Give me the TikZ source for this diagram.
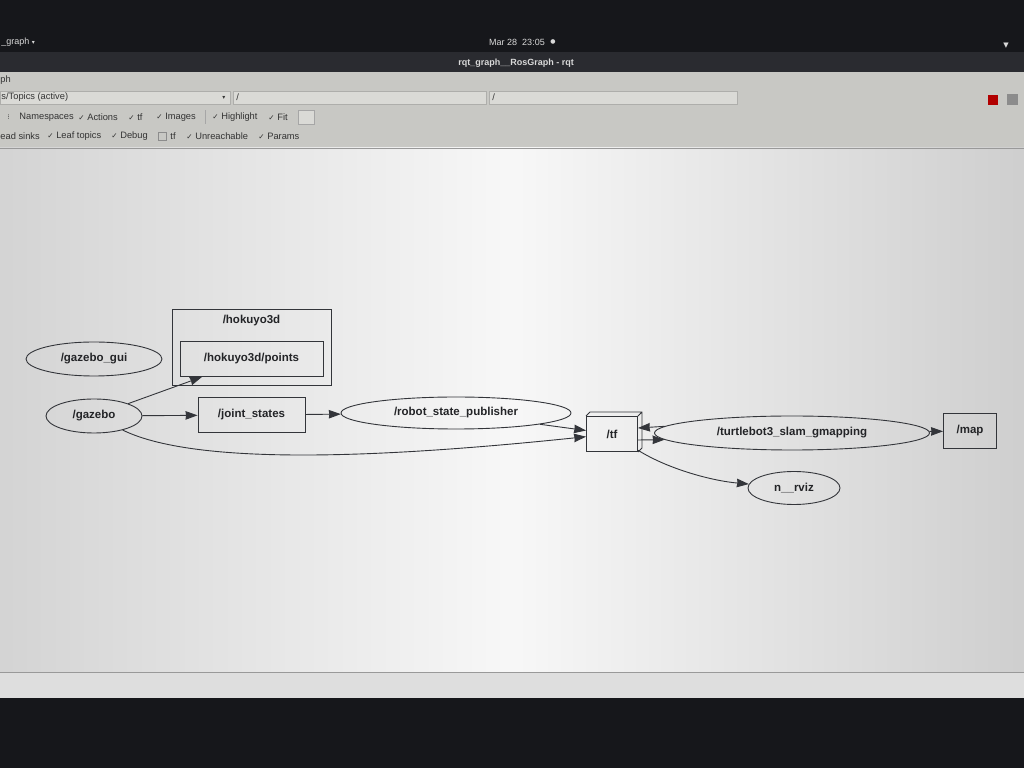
\documentclass[tikz,border=0pt]{standalone}
\usepackage{fontspec}
\setmainfont{Liberation Sans}
\newfontfamily\symfont{DejaVu Sans}
\usetikzlibrary{arrows,arrows.meta,shapes.geometric,positioning}

\definecolor{inkgray}{HTML}{232427}
\definecolor{edgegray}{HTML}{33353A}
\definecolor{panelgray}{HTML}{C8C8C4}
\definecolor{fieldgray}{HTML}{DADAD6}
\definecolor{screendark}{HTML}{16171B}
\definecolor{titledark}{HTML}{2A2B30}
\newcommand\ckmark{{\symfont\fontsize{7.5}{9}\selectfont ✓}}

\begin{document}
\begin{tikzpicture}[x=1pt,y=1pt,->,>={Stealth[length=12pt,width=8.5pt,inset=0.5pt]},
    line width=0.9pt,draw=edgegray,
    rosnode/.style={ellipse,draw=edgegray,text=inkgray,inner sep=0pt,
      font=\bfseries\fontsize{11.5}{14}\selectfont,minimum height=34pt},
    topic/.style={rectangle,draw=edgegray,text=inkgray,inner sep=0pt,
      font=\bfseries\fontsize{11.5}{14}\selectfont,minimum height=35pt},
    cluster/.style={rectangle,draw=edgegray,inner sep=0pt},
    uitext/.style={anchor=west,inner sep=0pt,text=black!80,
      font=\fontsize{9.3}{11}\selectfont},
    bartext/.style={inner sep=0pt,text=black!15,font=\fontsize{9}{11}\selectfont}]

  \useasboundingbox (0,0) rectangle (1024,768);
  \begin{scope}[-]
    \fill[screendark] (0,0) rectangle (1024,768);
    \fill[titledark] (0,696) rectangle (1024,716);
    \fill[panelgray] (0,620) rectangle (1024,696);
    \fill[black!13] (0,70) rectangle (1024,96);
    \shade[left color=black!17,right color=black!19,middle color=black!3]
      (0,96) rectangle (1024,620);
    \draw[black!40,line width=0.6pt] (0,620) -- (1024,620);
    \draw[black!40,line width=0.6pt] (0,96) -- (1024,96);
    \draw[fieldgray!80!black,fill=fieldgray,line width=0.5pt] (0,664) rectangle (230,677);
    \draw[fieldgray!80!black,fill=fieldgray,line width=0.5pt] (233,664) rectangle (486,677);
    \draw[fieldgray!80!black,fill=fieldgray,line width=0.5pt] (489,664) rectangle (737,677);
    \draw[black!35,line width=0.5pt] (205,644) -- (205,658);
    \draw[black!35,fill=fieldgray,line width=0.5pt] (298,644) rectangle (314,658);
    \draw[black!45,line width=0.5pt] (158,628) rectangle (166,636);
    \fill[red!70!black] (988,663) rectangle (998,673);
    \fill[black!45] (1007,663) rectangle (1018,674);
  \end{scope}

  \node[bartext,anchor=west] (appmenu) at (1,726) {\_graph {\symfont\fontsize{6}{7}\selectfont ▾}};
  \node[bartext] (clock) at (517,726) {Mar 28\ \ 23:05};
  \node[bartext] (dot) at (553,726) {{\symfont\fontsize{6}{7}\selectfont ●}};
  \node[bartext] (wifi) at (1006,722) {{\symfont\fontsize{7}{8}\selectfont ▼}};
  \node[bartext,font=\bfseries\fontsize{9}{11}\selectfont] (title) at (516,705) {rqt\_graph\_\_RosGraph - rqt};

  \node[uitext] (menu) at (0,688) {ph};
  \node[uitext] (combo) at (1,670.5) {s/Topics (active)};
  \node[uitext] (comboarrow) at (222,670.5) {{\symfont\fontsize{6}{7}\selectfont ▾}};
  \node[uitext] (filter1) at (236,670.5) {/};
  \node[uitext] (filter2) at (492,670.5) {/};
  \node[uitext] (spin) at (7,651) {{\symfont\fontsize{7}{8}\selectfont ⁝}};
  \node[uitext] (namespaces) at (19,651) {Namespaces};
  \node[uitext] (actions) at (78,651) {\ckmark\ Actions};
  \node[uitext] (tfbox) at (128,651) {\ckmark\ tf};
  \node[uitext] (images) at (156,651) {\ckmark\ Images};
  \node[uitext] (highlight) at (212,651) {\ckmark\ Highlight};
  \node[uitext] (fit) at (268,651) {\ckmark\ Fit};
  \node[uitext] (sinks) at (0,632) {ead sinks};
  \node[uitext] (leaf) at (47,632) {\ckmark\ Leaf topics};
  \node[uitext] (debug) at (111,632) {\ckmark\ Debug};
  \node[uitext] (tfquiet) at (170,632) {tf};
  \node[uitext] (unreach) at (186,632) {\ckmark\ Unreachable};
  \node[uitext] (params) at (258,632) {\ckmark\ Params};

  \node[rosnode,minimum width=136pt] (gazebogui) at (94,409) {/gazebo\_gui};
  \node[rosnode,minimum width=96pt] (gazebo) at (94,352) {/gazebo};
  \node[cluster,minimum width=159pt,minimum height=76pt] (hokuyo) at (251.5,421) {};
  \node[inner sep=0pt,text=inkgray,font=\bfseries\fontsize{11.5}{14}\selectfont,below=6pt of hokuyo.north] (hokuyolbl) {/hokuyo3d};
  \node[topic,minimum width=143pt] (points) at (251.5,409) {/hokuyo3d/points};
  \node[topic,minimum width=107pt] (joint) at (251.5,353) {/joint\_states};
  \node[rosnode,minimum width=230pt,minimum height=32pt] (rsp) at (456,355) {/robot\_state\_publisher};
  \node[topic,minimum width=51pt] (tf) at (612,334) {/tf};
  \draw[-] (tf.north west) -- ++(4,4) -- ([shift={(4,4)}]tf.north east)
    -- ([shift={(4,4)}]tf.south east) -- (tf.south east) (tf.north east) -- ++(4,4);
  \node[rosnode,minimum width=275pt] (gmapping) at (792,335) {/turtlebot3\_slam\_gmapping};
  \node[topic,minimum width=53pt] (map) at (970,337) {/map};
  \node[rosnode,minimum width=92pt,minimum height=33pt] (rviz) at (794,280) {n\_\_rviz};

  \path (gazebo) edge (points)
  (gazebo) edge (joint)
  (joint) edge (rsp)
  (rsp) edge (tf)
  (gmapping.177) edge (tf.13)
  (tf.-13) edge (gmapping.183)
  (gmapping) edge (map)
  (tf) edge[out=-32,in=175,looseness=0.8] (rviz);
  \draw (gazebo) .. controls (200,300) and (400,312) .. (tf);

\end{tikzpicture}
\end{document}
